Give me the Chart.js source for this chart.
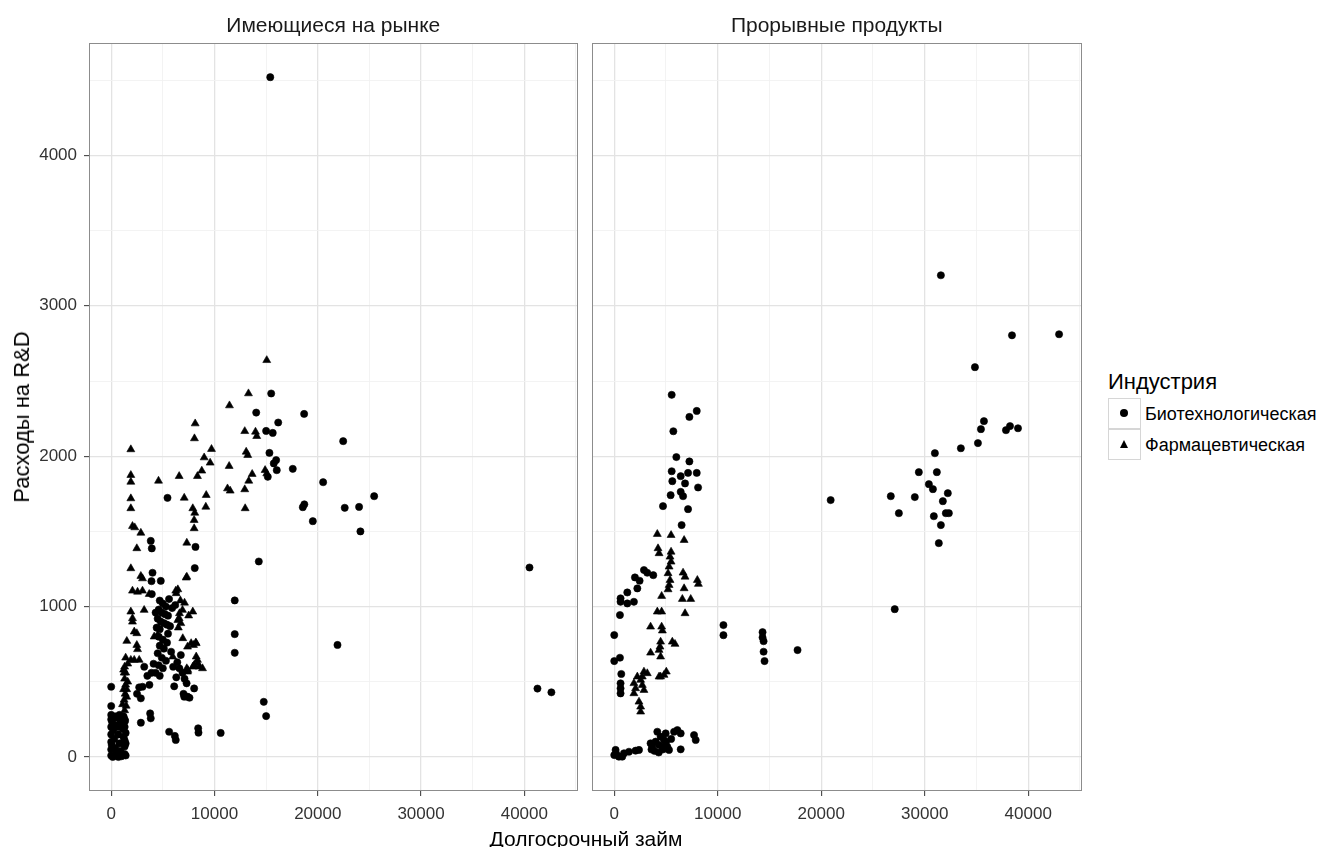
<!DOCTYPE html>
<html>
<head>
<meta charset="utf-8">
<script src="https://cdn.jsdelivr.net/npm/chart.js@4"></script>
<style>
  body { margin: 0; background: #fff; font-family: "Liberation Sans", Arial, sans-serif; }
  #wrap { position: relative; width: 1325px; height: 847px; overflow: hidden; background: #fff; }
  canvas { position: absolute; top: 0; }
  .ytitle { position: absolute; left: 22px; top: 417px; transform: translate(-50%, -50%) rotate(-90deg);
            font-size: 22px; white-space: nowrap; color: #000; }
  .xtitle { position: absolute; left: 286px; width: 600px; top: 827px; text-align: center;
            font-size: 21px; line-height: 24px; color: #000; }
  .lgtitle { position: absolute; left: 1108px; top: 369px; font-size: 22px; line-height: 26px; color: #000; }
  .key { position: absolute; left: 1108px; width: 31px; height: 29px; border: 1px solid #d6d6d6; background: #fff; }
  .dot { position: absolute; left: 11px; top: 10px; width: 8px; height: 8px; border-radius: 50%; background: #000; }
  .tri { position: absolute; left: 11px; top: 10px; width: 0; height: 0;
         border-left: 4.5px solid transparent; border-right: 4.5px solid transparent; border-bottom: 8px solid #000; }
  .lab { position: absolute; left: 1145px; font-size: 18px; line-height: 22px; color: #000; white-space: nowrap; }
</style>
</head>
<body>
<div id="wrap">
  <canvas id="left" width="584" height="847" style="left:0"></canvas>
  <canvas id="right" width="496" height="847" style="left:592px"></canvas>
  <div class="ytitle">Расходы на R&amp;D</div>
  <div class="xtitle">Долгосрочный займ</div>
  <div class="lgtitle" id="lgtitle"></div>
  <div class="key" style="top:398px"><div class="dot"></div></div>
  <div class="key" style="top:429px"><div class="tri"></div></div>
  <div class="lab" id="lab0" style="top:403px"></div>
  <div class="lab" id="lab1" style="top:434px"></div>
</div>
<script>
const panels = ["Имеющиеся на рынке", "Прорывные продукты"];
const industries = ["Биотехнологическая", "Фармацевтическая"];
const legendTitle = "Индустрия";
const xTicks = [0, 10000, 20000, 30000, 40000];
const yTicks = [0, 1000, 2000, 3000, 4000];

// Имеющиеся на рынке, биотехнологическая
const marketBioX = [15400,15490,14040,16170,18680,15000,15640,22460,15320,15970,15740,16030,15160,17580,20520,25460,18550,18700,22610,24000,19520,24130,14290,11960,11960,11960,10600,14770,15000,21910,40500,41270,42620,
  5450,3830,3930,8160,8090,4000,3900,4800,3930,
  4700,5000,5300,4600,4900,5200,5500,4500,4800,5100,5400,5700,4400,4700,5900,6200,5600,4300,
  4600,5000,5400,4700,5100,4500,4900,5300,4600,5000,4300,4700,5500,5800,
  6740,6400,6600,6900,7100,7300,8030,7070,7390,7580,7000,6300,6000,6100,
  2710,3030,2870,2870,3770,3830,3500,3200,3900,4100,3700,2500,
  5610,6160,6250,8420,8450,0,0,
  0,0,0,0,0,0,100,200,300,400,500,600,700,800,900,1000,1100,1200,1300,1400,1200,1350,1400,150,700,1000,300,500,900,1300,800,50,600,
  0,1300,1300,1300,1400,700,400];
const marketBioY = [4520,2417,2290,2224,2281,2168,2155,2100,2022,1974,1952,1907,1863,1916,1827,1734,1661,1680,1657,1663,1568,1500,1300,1041,817,693,160,367,272,745,1260,455,430,
  1723,1437,1387,1397,1256,1225,1169,1171,1083,
  1040,1020,1000,980,960,950,940,920,900,890,880,870,860,850,990,1010,1050,960,
  800,780,760,740,720,690,660,640,610,590,560,540,820,700,
  678,630,590,560,520,490,456,401,401,394,420,530,600,470,
  463,467,390,228,290,257,540,600,560,620,480,420,
  168,140,113,191,162,467,339,
  250,200,150,100,50,10,230,180,120,60,20,200,150,90,40,250,190,130,70,10,270,240,160,0,0,5,260,210,230,20,280,80,30,
  280,110,200,250,90,260,270];

// Имеющиеся на рынке, фармацевтическая
const marketPharmaX = [15060,13290,11450,8130,8060,9710,9000,9580,11420,12930,13970,14090,13070,13220,8770,8350,6580,4580,13650,13320,14900,15060,11260,11520,12930,9200,7070,9160,7900,8090,12970,8030,8030,7320,
  1900,1900,1900,1900,1900,2060,2280,2870,2480,1900,2870,3030,2060,2550,3030,3680,1900,2060,2060,3190,2230,2480,1510,2480,2550,1900,2230,2710,
  7260,7320,6250,6450,6290,7100,7900,6610,6450,6930,8230,7740,7390,7970,8190,8230,8380,7900,7420,5960,8350,8030,8520,8840,7320,7390,4160,4480,6700,6500,6900,6580,6740,7500,
  1300,1250,1300,1400,1200,1350,1500,1250,1100,1450,1300,1600,1500,1400,1200,1600,1400];
const marketPharmaY = [2638,2417,2337,2217,2118,2047,1991,1956,1934,2166,2162,2133,2029,2007,1903,1867,1867,1836,1881,1836,1907,1885,1785,1770,1779,1741,1723,1663,1653,1623,1653,1575,1520,1424,
  2045,1874,1829,1719,1653,1535,1526,1490,1387,1254,1203,1187,1105,1098,1105,1083,966,922,899,977,833,822,771,744,716,645,645,645,
  1192,1198,1105,1114,1088,1025,966,955,910,789,756,756,733,744,760,667,623,600,578,667,645,611,600,589,589,567,800,811,1040,860,977,922,889,940,
  600,560,520,480,450,420,400,380,350,340,310,500,450,560,580,620,660];

// Прорывные продукты, биотехнологическая
const breakBioX = [5550,7260,7970,5710,6000,7260,5550,6420,7130,7970,5610,6840,8100,6420,6650,5450,4710,7130,6510,
  2870,3190,3770,2000,2450,2230,1260,610,610,1260,1900,550,0,0,550,680,610,610,610,
  130,0,450,940,1420,2060,2390,770,200,4160,4480,4810,4330,3680,3510,4000,5130,5290,4650,4970,5780,6100,6420,7710,7870,6420,3900,4300,4700,5000,5500,3600,
  10550,10550,14330,14330,14430,14430,14520,17710,20910,26720,27500,27100,29040,29430,30400,31170,30980,30790,30880,31360,31560,31560,31750,32040,32230,32330,33490,34850,35140,35430,35720,38430,37850,38240,39010,42980];
const breakBioY = [2408,2261,2301,2166,1994,1965,1900,1867,1889,1889,1834,1819,1792,1763,1734,1741,1668,1648,1542,
  1243,1225,1209,1194,1172,1121,1094,1055,1032,1021,1032,944,811,638,660,552,490,456,423,
  47,13,2,25,35,42,47,2,20,168,135,113,80,68,91,102,68,47,68,157,168,179,157,146,113,51,40,30,50,100,120,50,
  877,810,830,795,770,700,638,711,1708,1734,1621,983,1728,1894,1814,1894,2020,1781,1601,1422,1542,3203,1701,1621,1754,1621,2053,2592,2087,2180,2233,2804,2173,2200,2186,2811];

// Прорывные продукты, фармацевтическая
const breakPharmaX = [4160,5490,6750,4230,4330,5490,5390,5490,5300,5200,5390,5300,5200,6650,6840,8030,8130,6750,4580,6580,7390,6840,4160,4580,3510,4580,4650,4480,4420,5610,5870,3510,4330,4480,5030,4810,4480,4330,2870,3190,2710,2550,2230,1900,2060,1900,2710,2870,2390,2550,2550];
const breakPharmaY = [1482,1475,1442,1387,1354,1364,1331,1298,1265,1221,1176,1143,1114,1225,1198,1176,1150,1121,1070,1050,1050,955,966,966,866,866,840,766,733,766,751,693,711,667,567,545,534,534,567,556,534,512,534,490,456,423,478,445,367,334,301];

const FONT = '"Liberation Sans", Arial, sans-serif';
const X_MIN = -2150, X_MAX = 45150, Y_MIN = -226, Y_MAX = 4746;

function pts(xs, ys) { return xs.map((x, i) => ({ x: x, y: ys[i] })); }

// major ticks plus the minor ones halfway between (and one past the last)
function withMinors(major) {
  const step = major[1] - major[0];
  const out = [];
  major.forEach(v => { out.push(v); out.push(v + step / 2); });
  return out;
}

const panelBorder = {
  id: 'panelBorder',
  afterDatasetsDraw(chart) {
    const a = chart.chartArea, ctx = chart.ctx;
    ctx.save();
    ctx.strokeStyle = '#8c8c8c';
    ctx.lineWidth = 1;
    ctx.strokeRect(Math.round(a.left) + 0.5, Math.round(a.top) + 0.5,
                   Math.round(a.right - a.left) - 1, Math.round(a.bottom - a.top) - 1);
    ctx.restore();
  }
};

function isMajor(v, list) { return list.indexOf(v) >= 0; }

function makePanel(id, title, bio, pharma, showY) {
  new Chart(document.getElementById(id), {
    type: 'scatter',
    data: {
      datasets: [
        { label: industries[0], data: bio, pointStyle: 'circle', pointRadius: 3.6,
          pointBorderWidth: 0.6, backgroundColor: '#000', borderColor: '#000' },
        { label: industries[1], data: pharma, pointStyle: 'triangle', pointRadius: 4.6,
          pointBorderWidth: 0.6, backgroundColor: '#000', borderColor: '#000' }
      ]
    },
    options: {
      responsive: false,
      animation: false,
      layout: { autoPadding: false, padding: { left: 0, right: showY ? 4 : 5, top: 0, bottom: 0 } },
      plugins: {
        legend: { display: false },
        tooltip: { enabled: false },
        title: {
          display: true, text: title, fullSize: false, color: '#1a1a1a',
          font: { family: FONT, size: 21, weight: 'normal', lineHeight: 1.2 },
          padding: { top: 14, bottom: 4 }
        }
      },
      scales: {
        x: {
          type: 'linear', min: X_MIN, max: X_MAX,
          afterBuildTicks(s) { s.ticks = withMinors(xTicks).map(v => ({ value: v })); },
          afterFit(s) { s.height = 56; },
          border: { display: false },
          grid: {
            color: c => isMajor(c.tick.value, xTicks) ? '#e3e3e3' : '#f2f2f2',
            lineWidth: c => isMajor(c.tick.value, xTicks) ? 1.3 : 0.9,
            tickLength: 5, tickWidth: 1,
            tickColor: c => isMajor(c.tick.value, xTicks) ? '#333' : 'rgba(0,0,0,0)'
          },
          ticks: {
            autoSkip: false, maxRotation: 0,
            padding: 8, color: '#333', font: { family: FONT, size: 17 },
            callback: v => isMajor(v, xTicks) ? String(v) : ''
          }
        },
        y: {
          type: 'linear', min: Y_MIN, max: Y_MAX,
          afterBuildTicks(s) { s.ticks = withMinors(yTicks).map(v => ({ value: v })); },
          afterFit(s) { s.width = showY ? 89 : 0; },
          border: { display: false },
          grid: {
            color: c => isMajor(c.tick.value, yTicks) ? '#e3e3e3' : '#f2f2f2',
            lineWidth: c => isMajor(c.tick.value, yTicks) ? 1.3 : 0.9,
            drawTicks: showY, tickLength: 5, tickWidth: 1,
            tickColor: c => isMajor(c.tick.value, yTicks) ? '#333' : 'rgba(0,0,0,0)'
          },
          ticks: {
            display: showY, autoSkip: false,
            padding: 7, color: '#333', font: { family: FONT, size: 17 },
            callback: v => isMajor(v, yTicks) ? String(v) : ''
          }
        }
      }
    },
    plugins: [panelBorder]
  });
}

makePanel('left', panels[0], pts(marketBioX, marketBioY), pts(marketPharmaX, marketPharmaY), true);
makePanel('right', panels[1], pts(breakBioX, breakBioY), pts(breakPharmaX, breakPharmaY), false);

document.getElementById('lgtitle').textContent = legendTitle;
document.getElementById('lab0').textContent = industries[0];
document.getElementById('lab1').textContent = industries[1];
</script>
</body>
</html>
